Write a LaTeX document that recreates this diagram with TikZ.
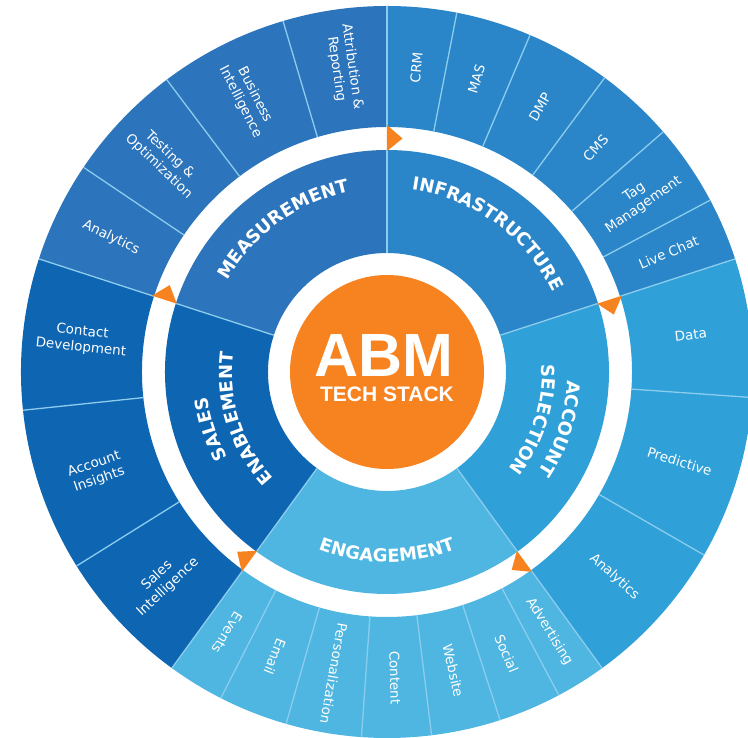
\documentclass[tikz,border=0pt]{standalone}
\usepackage{fontspec}
\setmainfont{DejaVu Sans}
\newfontfamily\abmfont{Liberation Sans}
\usetikzlibrary{decorations.text}

\definecolor{measblue}{RGB}{44,116,188}
\definecolor{infrablue}{RGB}{42,134,200}
\definecolor{acctblue}{RGB}{47,160,216}
\definecolor{engblue}{RGB}{78,182,224}
\definecolor{salesblue}{RGB}{14,101,178}
\definecolor{sepline}{RGB}{140,205,238}
\definecolor{abmorange}{RGB}{246,130,32}

% ring piece: start angle, end angle, inner radius, outer radius, colour
\newcommand{\ringpart}[5]{%
  \fill[#5] (#1:#3) arc[start angle=#1, end angle=#2, radius=#3]
    -- (#2:#4) arc[start angle=#2, end angle=#1, radius=#4] -- cycle;}
\newcommand{\secfont}{\fontsize{18}{18}\selectfont\bfseries}

\tikzset{
  secttext/.style={decorate, decoration={text along path, text align=center,
    text color=white, text={|\secfont|#1}}},
}

\begin{document}
\begin{tikzpicture}[x=1pt, y=1pt,
    seg/.style={draw=sepline, line width=1.3pt},
    outlbl/.style={text=white, font=\fontsize{13.5}{16}\selectfont, align=center, inner sep=0pt}]
  \useasboundingbox (-387,-366) rectangle (361,372);
  \clip (-387,-366) rectangle (361,372);

  % Five parts, inner and outer ring
  \foreach \s/\e/\c in {90/162/measblue, 18/90/infrablue, -54/18/acctblue,
      -126/-54/engblue, 162/234/salesblue} {
    \ringpart{\s}{\e}{119}{222}{\c}
    \ringpart{\s}{\e}{245}{366}{\c}
  }

  % Lines between the parts
  \foreach \a in {90,18,-54,-126,162} {
    \draw[seg] (\a:119) -- (\a:222);
    \draw[seg] (\a:245) -- (\a:366);
  }
  % Lines between the tools
  \foreach \a in {106.5,127,146, 79,67,53.5,41,28, -4,-30,
      -117,-106,-94,-83,-72,-62, 186,212}
    \draw[seg] (\a:245) -- (\a:366);

  % Orange marks in the white ring
  \foreach \a in {90,18,-54,-126,162}
    \fill[abmorange] (\a:221) -- (\a:247) -- ({\a-3.8}:234) -- cycle;

  % Centre
  \node[circle, fill=abmorange, minimum size=194pt, inner sep=0pt] (core) at (0,0) {};
  \node[anchor=base, text=white, font=\abmfont\bfseries\fontsize{61}{61}\selectfont] (abm) at (-3,-5) {ABM};
  \node[anchor=base, text=white, font=\abmfont\bfseries\fontsize{21}{21}\selectfont] (stack) at (0,-30) {TECH STACK};

  % Part names
  \path[secttext=MEASUREMENT] (162:184) arc[start angle=162, end angle=90, radius=184];
  \path[secttext=INFRASTRUCTURE] (90:184) arc[start angle=90, end angle=18, radius=184];
  \path[secttext=ACCOUNT] (18:181) arc[start angle=18, end angle=-54, radius=181];
  \path[secttext=SELECTION] (18:155) arc[start angle=18, end angle=-54, radius=155];
  \path[secttext=ENGAGEMENT] (-126:190) arc[start angle=-126, end angle=-54, radius=190];
  \path[secttext=SALES] (234:181) arc[start angle=234, end angle=162, radius=181];
  \path[secttext=ENABLEMENT] (234:155) arc[start angle=234, end angle=162, radius=155];

  % Tools, read outward
  \foreach \a/\t [count=\i] in {84.5/CRM, 73/MAS, 60/DMP, 47/CMS, 34.5/{Tag\\Management},
      23/Live Chat, 7/Data, -17/Predictive, -42/Analytics, -58/Advertising, -67/Social,
      -77.5/Website, -88.5/Content, -100/Personalization, -111.5/Email, -121.5/Events}
    \node[outlbl, rotate=\a] (tool\i) at (\a:306) {\t};
  % Tools, read inward
  \foreach \a/\t [count=\i] in {98/{Attribution \&\\Reporting}, 117/{Business\\Intelligence},
      136.5/{Testing \&\\Optimization}, 154/Analytics, 174/{Contact\\Development},
      199/{Account\\Insights}, 223/{Sales\\Intelligence}}
    \node[outlbl, rotate=\a+180] (side\i) at (\a:307) {\t};
\end{tikzpicture}
\end{document}
